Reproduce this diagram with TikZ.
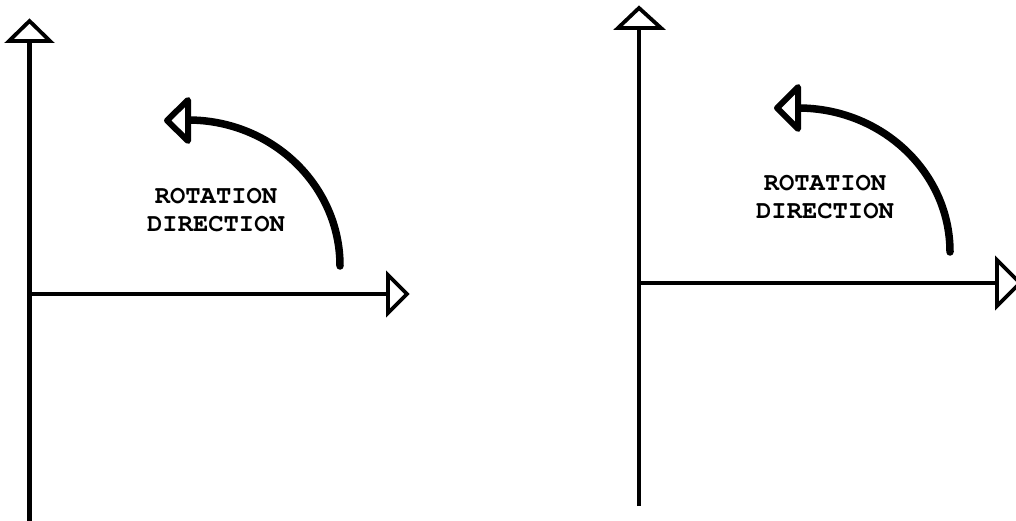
\documentclass[tikz,border=0pt]{standalone}
\usepackage[T1,TU]{fontenc}
\usepackage{fontspec}
\begin{document}
\begin{tikzpicture}[x=1pt,y=-1pt,
  axis/.style={line width=4.5pt},
  axishead/.style={line width=3.8pt, fill=white, line join=miter},
  rotarc/.style={line width=7.5pt, line cap=round},
  rothead/.style={line width=6pt, fill=white, line join=round},
  lbl/.style={font=\fontencoding{T1}\fontfamily{pcr}\fontseries{b}\fontsize{25.5}{28}\selectfont, align=center, inner sep=0pt}]
\useasboundingbox (0,0) rectangle (1016,521);
% ---------- left diagram ----------
\coordinate (LO) at (29.5,294);
\coordinate (LB) at (29.5,530);
\coordinate (LT) at (29.5,41);
\coordinate (LR) at (388,294);
\draw[axis] (LB) -- (LT);
\draw[axis] (LO) -- (LR);
\draw[axishead] (9,41) -- (29.5,21) -- (50,41) -- cycle;
\draw[axishead] (388,275) -- (407,294) -- (388,313) -- cycle;
\coordinate (LA) at (340,266);
\draw[rotarc] (LA) arc[start angle=0, end angle=-90, x radius=152, y radius=146];
\draw[rothead] (167,120.5) -- (188,100) -- (188,141) -- cycle;
\node[lbl] (L1) at (216,210) {ROTATION\\DIRECTION};
% ---------- right diagram ----------
\coordinate (RO) at (639,283);
\coordinate (RB) at (639,506);
\coordinate (RT) at (639,28);
\coordinate (RR) at (997,283);
\draw[axis] (RB) -- (RT);
\draw[axis] (RO) -- (RR);
\draw[axishead] (618,28) -- (639,8) -- (661,28) -- cycle;
\draw[axishead] (997,260) -- (1020,283) -- (997,306) -- cycle;
\coordinate (RA) at (950,252);
\draw[rotarc] (RA) arc[start angle=0, end angle=-90, x radius=152, y radius=144];
\draw[rothead] (777,108) -- (798,87) -- (798,129) -- cycle;
\node[lbl] (R1) at (825,197) {ROTATION\\DIRECTION};
\end{tikzpicture}
\end{document}
